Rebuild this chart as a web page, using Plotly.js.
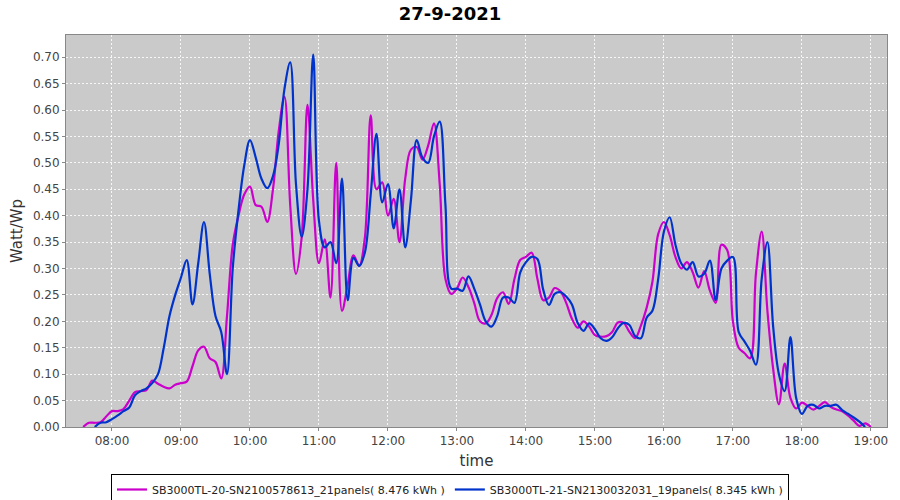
<!DOCTYPE html>
<html>
<head>
<meta charset="utf-8">
<script src="https://cdn.plot.ly/plotly-3.0.1.min.js"></script>
<style>html,body{margin:0;padding:0;background:#fff;}#chart{width:900px;height:500px;}</style>
</head>
<body>
<div id="chart"></div>
<script>
// 5-minute samples
const startTime = '2021-09-27 07:35';
const stepMinutes = 5;
const seriesNames = [
  'SB3000TL-20-SN2100578613_21panels( 8.476 kWh )',
  'SB3000TL-21-SN2130032031_19panels( 8.345 kWh )'
];
// Series 1 (magenta), starts 07:35
const magentaValues = [
  0.00, 0.008, 0.008, 0.009, 0.02, 0.03, 0.03, 0.034, 0.05, 0.066,
  0.068, 0.07, 0.088, 0.082, 0.076, 0.073, 0.08, 0.083, 0.086, 0.115,
  0.145, 0.152, 0.13, 0.123, 0.092, 0.21, 0.345, 0.40, 0.44, 0.455,
  0.42, 0.417, 0.388, 0.45, 0.56, 0.625, 0.42, 0.29, 0.36, 0.61,
  0.43, 0.31, 0.355, 0.245, 0.50, 0.22, 0.27, 0.325, 0.305, 0.36,
  0.59, 0.45, 0.463, 0.40, 0.432, 0.35, 0.47, 0.525, 0.53, 0.506,
  0.533, 0.575, 0.46, 0.28, 0.252, 0.262, 0.283, 0.265, 0.235, 0.20,
  0.196, 0.212, 0.244, 0.255, 0.233, 0.28, 0.316, 0.322, 0.33, 0.28,
  0.24, 0.245, 0.263, 0.257, 0.235, 0.205, 0.188, 0.20, 0.19, 0.174,
  0.171, 0.172, 0.18, 0.198, 0.197, 0.18, 0.168, 0.192, 0.226, 0.275,
  0.365, 0.388, 0.363, 0.322, 0.30, 0.312, 0.293, 0.264, 0.295, 0.258,
  0.235, 0.345, 0.335, 0.20, 0.15, 0.14, 0.13, 0.29, 0.37, 0.22,
  0.11, 0.043, 0.12, 0.055, 0.035, 0.046, 0.04, 0.033, 0.04, 0.047,
  0.038, 0.033, 0.03, 0.022, 0.012, 0.002, 0.007, 0.0
];
// Series 2 (blue), starts 07:45 (two samples later)
const blueOffset = 2;
const blueValues = [
  0.0, 0.008, 0.009, 0.015, 0.022, 0.03, 0.037, 0.06,
  0.068, 0.073, 0.083, 0.10, 0.15, 0.21, 0.25, 0.283, 0.316, 0.232,
  0.31, 0.388, 0.29, 0.21, 0.18, 0.10, 0.30, 0.41, 0.495, 0.543,
  0.51, 0.47, 0.452, 0.475, 0.535, 0.64, 0.69, 0.46, 0.36, 0.45,
  0.705, 0.39, 0.34, 0.35, 0.31, 0.47, 0.24, 0.32, 0.305, 0.331,
  0.44, 0.555, 0.425, 0.46, 0.376, 0.45, 0.34, 0.43, 0.543, 0.51,
  0.50, 0.55, 0.578, 0.42, 0.262, 0.262, 0.258, 0.285, 0.262, 0.232,
  0.20, 0.19, 0.21, 0.245, 0.245, 0.235, 0.292, 0.312, 0.322, 0.318,
  0.26, 0.231, 0.252, 0.255, 0.247, 0.232, 0.197, 0.182, 0.196, 0.185,
  0.168, 0.163, 0.17, 0.187, 0.197, 0.193, 0.172, 0.168, 0.207, 0.22,
  0.28, 0.37, 0.397, 0.345, 0.31, 0.298, 0.312, 0.285, 0.29, 0.315,
  0.24, 0.30, 0.315, 0.322, 0.18, 0.162, 0.144, 0.118, 0.28, 0.35,
  0.19, 0.10, 0.068, 0.17, 0.055, 0.025, 0.04, 0.042, 0.035, 0.04,
  0.04, 0.042, 0.032, 0.025, 0.018, 0.01, 0.0
];
const xTickVals = ['2021-09-27 08:00','2021-09-27 09:00','2021-09-27 10:00','2021-09-27 11:00','2021-09-27 12:00','2021-09-27 13:00','2021-09-27 14:00','2021-09-27 15:00','2021-09-27 16:00','2021-09-27 17:00','2021-09-27 18:00','2021-09-27 19:00'];
const xTickText = ['08:00','09:00','10:00','11:00','12:00','13:00','14:00','15:00','16:00','17:00','18:00','19:00'];

function pad(n){return (n<10?'0':'')+n;}
function timeAt(index){
  const base = new Date(startTime.replace(' ','T')+':00');
  const d = new Date(base.getTime() + index*stepMinutes*60000);
  return d.getFullYear()+'-'+pad(d.getMonth()+1)+'-'+pad(d.getDate())+' '+pad(d.getHours())+':'+pad(d.getMinutes());
}
const magentaX = magentaValues.map((_, i) => timeAt(i));
const blueX = blueValues.map((_, i) => timeAt(i + blueOffset));

const font = 'DejaVu Sans, Verdana, sans-serif';
const traces = [
  {x: magentaX, y: magentaValues, name: seriesNames[0], type: 'scatter', mode: 'lines',
   line: {color: '#cc00cc', width: 2.2, shape: 'spline', smoothing: 1}},
  {x: blueX, y: blueValues, name: seriesNames[1], type: 'scatter', mode: 'lines',
   line: {color: '#0033cc', width: 2.2, shape: 'spline', smoothing: 1}}
];
const layout = {
  width: 900, height: 500,
  margin: {l: 66, r: 13, t: 35, b: 73},
  paper_bgcolor: '#ffffff', plot_bgcolor: '#cacaca',
  font: {family: font, color: '#444444', size: 12},
  title: {text: '<b>27-9-2021</b>', x: 0.5, xref: 'container', y: 0.972, yanchor: 'middle',
          font: {family: font, size: 18, color: '#000000'}},
  xaxis: {
    type: 'date', range: ['2021-09-27 07:20', '2021-09-27 19:14'],
    tickmode: 'array', tickvals: xTickVals, ticktext: xTickText,
    showgrid: true, gridcolor: 'rgba(255,255,255,0.85)', griddash: '2px,2px', gridwidth: 1,
    showline: true, linecolor: '#888888', linewidth: 1, mirror: true,
    ticks: 'outside', ticklen: 3, tickcolor: '#888888',
    tickfont: {family: font, size: 12, color: '#444444'},
    zeroline: false,
    title: {text: 'time', font: {family: font, size: 15, color: '#333333'}, standoff: 8}
  },
  yaxis: {
    range: [0, 0.742], tick0: 0, dtick: 0.05, tickformat: '.2f',
    showgrid: true, gridcolor: 'rgba(255,255,255,0.85)', griddash: '2px,2px', gridwidth: 1,
    showline: true, linecolor: '#888888', linewidth: 1, mirror: true,
    ticks: 'outside', ticklen: 3, tickcolor: '#888888',
    tickfont: {family: font, size: 12, color: '#444444'},
    zeroline: false,
    title: {text: 'Watt/Wp', font: {family: font, size: 15, color: '#333333'}, standoff: 6}
  },
  showlegend: true,
  legend: {
    orientation: 'h', xref: 'container', yref: 'container',
    x: 0.5, xanchor: 'center', y: 0.052, yanchor: 'top',
    bordercolor: '#000000', borderwidth: 1, bgcolor: '#ffffff',
    font: {family: font, size: 11, color: '#222222'},
    itemwidth: 30, tracegroupgap: 0
  }
};
Plotly.newPlot('chart', traces, layout, {displayModeBar: false, staticPlot: true});
</script>
</body>
</html>
